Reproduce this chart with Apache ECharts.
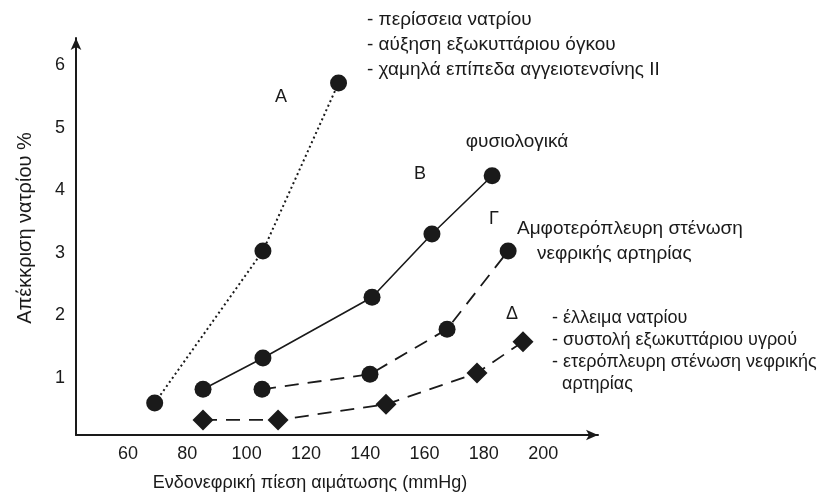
<!DOCTYPE html>
<html><head><meta charset="utf-8">
<script src="https://cdn.jsdelivr.net/npm/echarts@6/dist/echarts.min.js"></script>
<style>html,body{margin:0;padding:0;background:#fff}#c{width:832px;height:498px}</style>
</head><body><div id="c"></div>
<script>
// Data
const xTickLabels = [60, 80, 100, 120, 140, 160, 180, 200];
const yTickLabels = [1, 2, 3, 4, 5, 6];
const xA = [69, 105.5, 131];
const yA = [0.60, 3.03, 5.71];
const xB = [85.3, 105.5, 142.3, 162.5, 182.8];
const yB = [0.82, 1.32, 2.29, 3.30, 4.23];
const xG = [105.2, 141.6, 167.6, 188.2];
const yG = [0.82, 1.06, 1.78, 3.03];
const xD = [85.3, 110.6, 147, 177.7, 193.2];
const yD = [0.33, 0.33, 0.58, 1.08, 1.58];

const F = "'Liberation Sans', Arial, sans-serif";
const C = '#1a1a1a';
const FS = 18;
const pairs = (xs, ys) => xs.map((x, i) => [x, ys[i]]);

function txt(x, y, s, align, fs) {
  return {type: 'text', x: x, y: y, style: {text: s, font: (fs || FS) + 'px ' + F, fill: C, textAlign: align || 'left', textVerticalAlign: 'middle'}};
}

const chart = echarts.init(document.getElementById('c'));
chart.setOption({
  animation: false,
  grid: {left: 76, right: 234, top: 38, bottom: 63},
  xAxis: {
    type: 'value', min: 42.46, max: 218.5, splitNumber: 8,
    axisLine: {lineStyle: {color: C, width: 2}, symbol: ['none', 'arrow'], symbolSize: [8, 12]},
    axisTick: {show: false}, splitLine: {show: false},
    axisLabel: {color: C, fontFamily: F, fontSize: FS, margin: 10,
      formatter: v => xTickLabels.includes(Math.round(v)) && Math.abs(v - Math.round(v)) < 1e-6 ? String(Math.round(v)) : ''}
  },
  yAxis: {
    type: 'value', min: 0.09, max: 6.43, splitNumber: 6,
    axisLine: {show: true, lineStyle: {color: C, width: 2}, symbol: ['none', 'arrow'], symbolSize: [8, 12]},
    axisTick: {show: false}, splitLine: {show: false},
    axisLabel: {color: C, fontFamily: F, fontSize: FS, margin: 11,
      formatter: v => yTickLabels.includes(Math.round(v)) && Math.abs(v - Math.round(v)) < 1e-6 ? String(Math.round(v)) : ''}
  },
  series: [
    {type: 'line', data: pairs(xA, yA), symbol: 'circle', symbolSize: 17,
      itemStyle: {color: C}, lineStyle: {color: C, width: 2, type: [2, 3]}},
    {type: 'line', data: pairs(xB, yB), symbol: 'circle', symbolSize: 17,
      itemStyle: {color: C}, lineStyle: {color: C, width: 1.6, type: 'solid'}},
    {type: 'line', data: pairs(xG, yG), symbol: 'circle', symbolSize: 17,
      itemStyle: {color: C}, lineStyle: {color: C, width: 1.8, type: [14, 9]}},
    {type: 'line', data: pairs(xD, yD), symbol: 'diamond', symbolSize: 21,
      itemStyle: {color: C}, lineStyle: {color: C, width: 1.8, type: [14, 9]}}
  ],
  graphic: [
    txt(281, 97, 'Α', 'center'),
    txt(420, 174, 'Β', 'center'),
    txt(494, 219, 'Γ', 'center'),
    txt(512, 314, 'Δ', 'center'),
    txt(517, 142, 'φυσιολογικά', 'center', 19),
    txt(367, 20, '- περίσσεια νατρίου', 'left', 19),
    txt(367, 45, '- αύξηση εξωκυττάριου όγκου', 'left', 19),
    txt(367, 70, '- χαμηλά επίπεδα αγγειοτενσίνης ΙΙ', 'left', 19),
    txt(517, 229, 'Αμφοτερόπλευρη στένωση', 'left', 19),
    txt(537, 254, 'νεφρικής αρτηρίας', 'left', 19),
    txt(552, 318, '- έλλειμα νατρίου'),
    txt(552, 340, '- συστολή εξωκυττάριου υγρού'),
    txt(552, 362, '- ετερόπλευρη στένωση νεφρικής'),
    txt(562, 384, 'αρτηρίας'),
    txt(310, 483, 'Ενδονεφρική πίεση αιμάτωσης (mmHg)', 'center'),
    {type: 'text', x: 25, y: 228, rotation: Math.PI / 2,
      style: {text: 'Απέκκριση νατρίου %', font: '20px ' + F, fill: C, textAlign: 'center', textVerticalAlign: 'middle'}}
  ]
});
</script></body></html>
